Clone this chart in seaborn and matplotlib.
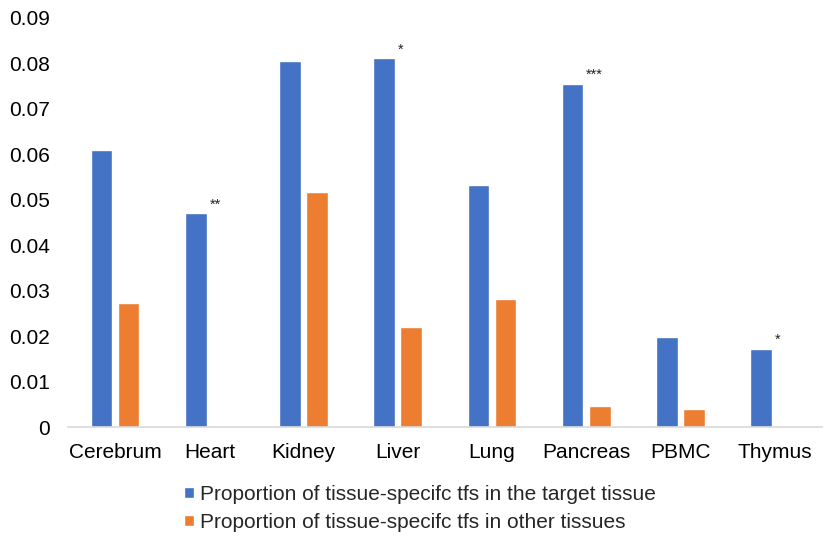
import seaborn as sns
import matplotlib.pyplot as plt
import pandas as pd

# data
tissues = ["Cerebrum", "Heart", "Kidney", "Liver", "Lung", "Pancreas", "PBMC", "Thymus"]
target = [0.0610, 0.0470, 0.0804, 0.0810, 0.0532, 0.0754, 0.0198, 0.0172]
other = [0.0272, 0.0, 0.0517, 0.0221, 0.0281, 0.0046, 0.0040, 0.0]
series = ["Proportion of tissue-specifc tfs in the target tissue",
          "Proportion of tissue-specifc tfs in other tissues"]
stars = {"Heart": "**", "Liver": "*", "Pancreas": "***", "Thymus": "*"}

df = pd.DataFrame({
    "tissue": tissues * 2,
    "value": target + other,
    "series": [series[0]] * len(tissues) + [series[1]] * len(tissues),
})

sns.set_theme(style="white")
plt.rcParams["font.family"] = ["Liberation Sans", "DejaVu Sans"]

fig = plt.figure(figsize=(8.3, 5.38), dpi=100)
ax = fig.add_axes([0.082, 0.2058, 0.908, 0.7617])

sns.barplot(data=df, x="tissue", y="value", hue="series",
            palette=["#4472C4", "#ED7D31"], width=0.574, gap=0.2,
            saturation=1, ax=ax)

# significance stars next to the blue bars
blue_bars = ax.containers[0]
for i, t in enumerate(tissues):
    if t in stars:
        b = blue_bars[i]
        ax.text(b.get_x() + b.get_width() + 0.03, b.get_height() + 0.0004, stars[t],
                fontsize=10.5, ha="left", va="bottom", color="#222222")

ax.set_ylim(0, 0.09)
ax.set_xlim(-0.5, len(tissues) - 0.5)
ax.set_yticks([i / 100 for i in range(10)])
ax.set_yticklabels(["0"] + ["0.0%d" % i for i in range(1, 10)])
ax.set_xlabel("")
ax.set_ylabel("")
ax.tick_params(axis="both", length=0, labelsize=15, colors="#000000")
ax.tick_params(axis="x", pad=11)
ax.tick_params(axis="y", pad=13)

for s in ["top", "right", "left"]:
    ax.spines[s].set_visible(False)
ax.spines["bottom"].set_color("#d9d9d9")
ax.spines["bottom"].set_linewidth(1.2)

ax.legend(loc="upper center", bbox_to_anchor=(0.467, -0.094), ncol=1,
          frameon=False, fontsize=15, handlelength=0.45, handleheight=0.45,
          handletextpad=0.3, labelspacing=0.45)

fig.savefig("out.png", dpi=100)
